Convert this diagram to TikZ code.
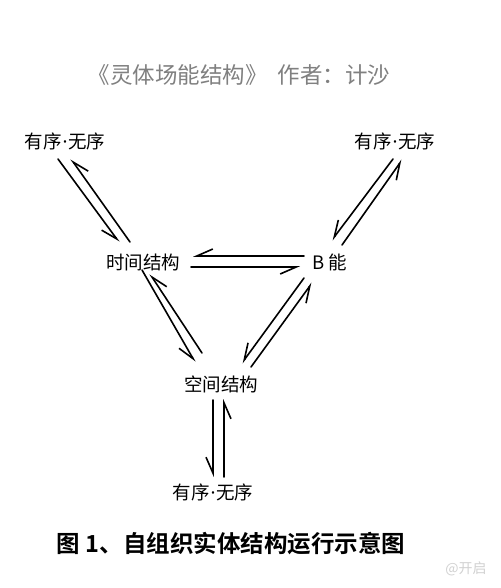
\documentclass[tikz,border=0pt]{standalone}
\usepackage{fontspec}
\setmainfont{Noto Sans CJK SC}[BoldFont={Noto Sans CJK SC Bold}]
\newfontfamily\latinfont{Noto Sans}
\newcommand{\mdot}{\hspace{1pt}{\latinfont ·}\hspace{1pt}}
\usetikzlibrary{arrows.meta}
\begin{document}
\begin{tikzpicture}[x=1pt,y=-1pt,
  lbl/.style={inner sep=0pt, font=\fontsize{18.5}{18.5}\selectfont},
  harp/.style={line width=1.6pt, line cap=round, -{Straight Barb[right,length=16pt,width=14pt]}}]
\useasboundingbox[fill=white] (0,0) rectangle (500,588);
% title
\node[inner sep=0pt, text=black!50, font=\fontsize{22.5}{22.5}\selectfont] (title) at (239,75) {《灵体场能结构》\hspace{10pt}作者：计沙};
% nodes
\node[lbl] (TL) at (65,141) {有序\mdot 无序};
\node[lbl] (TR) at (395,141) {有序\mdot 无序};
\node[lbl] (T) at (143,262) {时间结构};
\node[lbl] (B) at (330,262) {B 能};
\node[lbl] (S) at (221,384) {空间结构};
\node[lbl] (BOT) at (213,492) {有序\mdot 无序};
% caption
\node[inner sep=0pt, font=\fontsize{23.5}{23.5}\bfseries\selectfont] (cap) at (231,544) {图 1、自组织实体结构运行示意图};
\node[inner sep=0pt, text=black!18, font=\fontsize{14}{14}\selectfont] (wm) at (466,569) {@开启};
% TL <-> T
\draw[harp] ([shift={(-7,18)}]TL.center) -- ([shift={(-24,-20)}]T.center);
\draw[harp] ([shift={(-13,-20)}]T.center) -- ([shift={(6,18)}]TL.center);
% TR <-> B
\draw[harp] ([shift={(-2,18)}]TR.center) -- ([shift={(2,-22)}]B.center);
\draw[harp] ([shift={(12,-17)}]B.center) -- ([shift={(7,19)}]TR.center);
% B <-> T
\draw[harp] ([shift={(-26,-6)}]B.center) -- ([shift={(50,-6)}]T.center);
\draw[harp] ([shift={(48,5)}]T.center) -- ([shift={(-30,5)}]B.center);
% T <-> S
\draw[harp] ([shift={(-1,8)}]T.center) -- ([shift={(-26,-22)}]S.center);
\draw[harp] ([shift={(-19,-31)}]S.center) -- ([shift={(7,12)}]T.center);
% B <-> S
\draw[harp] ([shift={(-26,16)}]B.center) -- ([shift={(21,-21)}]S.center);
\draw[harp] ([shift={(30,-17)}]S.center) -- ([shift={(-18,21)}]B.center);
% S <-> BOT
\draw[harp] ([shift={(-8,16)}]S.center) -- ([shift={(0,-15)}]BOT.center);
\draw[harp] ([shift={(11,-15)}]BOT.center) -- ([shift={(3,15)}]S.center);
\end{tikzpicture}
\end{document}
